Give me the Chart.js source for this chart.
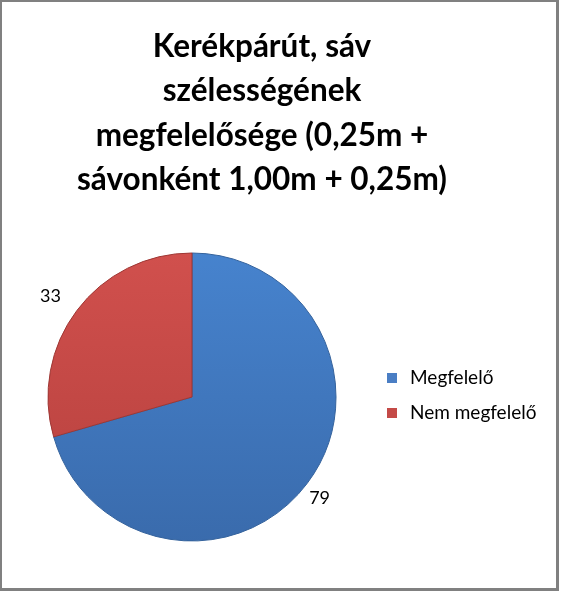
<!DOCTYPE html>
<html>
<head>
<meta charset="utf-8">
<script src="https://cdn.jsdelivr.net/npm/chart.js@4/dist/chart.umd.min.js"></script>
<style>
  body { margin: 0; background: #fff; }
  #frame {
    position: absolute; left: 0; top: 0;
    width: 559px; height: 591px;
    box-sizing: border-box;
    border: 2px solid #808080;
    border-right-width: 3px;
    border-bottom-width: 3px;
    background: #fff;
  }
  #wrap { position: absolute; left: 0; top: 0; right: 0; bottom: 0; }
</style>
</head>
<body>
<div id="frame"><div id="wrap"><canvas id="chart"></canvas></div></div>
<script>
const labels = ['Megfelelő', 'Nem megfelelő'];
const values = [79, 33];
const titleLines = [
  'Kerékpárút, sáv',
  'szélességének',
  'megfelelősége (0,25m +',
  'sávonként 1,00m + 0,25m)'
];

const FONT = 'Lato, "Open Sans", "Liberation Sans", sans-serif';
const topShade = ['#4886d2', '#d4524f'];
const bottomShade = ['#3868a8', '#b23e3b'];
const rimColors = ['#34629c', '#9e3734'];
const keyColors = ['#4a7ec4', '#c44a47'];

function sliceFill(ctx) {
  const i = ctx.dataIndex;
  const area = ctx.chart.chartArea;
  if (!area) return keyColors[i];
  const g = ctx.chart.ctx.createLinearGradient(0, area.top, 0, area.bottom);
  g.addColorStop(0, topShade[i]);
  g.addColorStop(1, bottomShade[i]);
  return g;
}

// title block, centred a bit left of the canvas middle like the original
const titleBlock = {
  id: 'titleBlock',
  afterDraw(chart) {
    const ctx = chart.ctx;
    ctx.save();
    ctx.font = 'bold 31.5px ' + FONT;
    ctx.fillStyle = '#000';
    ctx.textAlign = 'center';
    ctx.textBaseline = 'middle';
    titleLines.forEach((line, i) => ctx.fillText(line, 260, 45 + i * 44.3));
    ctx.restore();
  }
};

// legend on the right
const sideLegend = {
  id: 'sideLegend',
  afterDraw(chart) {
    const ctx = chart.ctx;
    ctx.save();
    ctx.font = '19px ' + FONT;
    ctx.textAlign = 'left';
    ctx.textBaseline = 'middle';
    chart.data.labels.forEach((l, i) => {
      const y = 376 + i * 35;
      ctx.fillStyle = keyColors[i];
      ctx.fillRect(385, y - 5, 10, 10);
      ctx.fillStyle = '#000';
      ctx.fillText(l, 408, y);
    });
    ctx.restore();
  }
};

// values next to each slice, just outside the edge
const outsideLabels = {
  id: 'outsideLabels',
  afterDatasetsDraw(chart) {
    const ctx = chart.ctx;
    const meta = chart.getDatasetMeta(0);
    ctx.save();
    ctx.font = '18px ' + FONT;
    ctx.fillStyle = '#000';
    ctx.textAlign = 'center';
    ctx.textBaseline = 'middle';
    meta.data.forEach((arc, i) => {
      const p = arc.getProps(['x', 'y', 'startAngle', 'endAngle', 'outerRadius'], true);
      const mid = (p.startAngle + p.endAngle) / 2;
      const d = p.outerRadius * 1.17;
      ctx.fillText(String(chart.data.datasets[0].data[i]),
        p.x + Math.cos(mid) * d - 7, p.y + Math.sin(mid) * d);
    });
    ctx.restore();
  }
};

new Chart(document.getElementById('chart'), {
  type: 'pie',
  data: {
    labels: labels,
    datasets: [{
      data: values,
      radius: 144,
      backgroundColor: sliceFill,
      borderColor: ctx => rimColors[ctx.dataIndex],
      borderWidth: 1
    }]
  },
  options: {
    responsive: true,
    maintainAspectRatio: false,
    animation: false,
    layout: { padding: { top: 214, left: 0, right: 174, bottom: 10 } },
    plugins: {
      title: { display: false },
      legend: { display: false },
      tooltip: { enabled: false }
    }
  },
  plugins: [outsideLabels, titleBlock, sideLegend]
});
</script>
</body>
</html>
